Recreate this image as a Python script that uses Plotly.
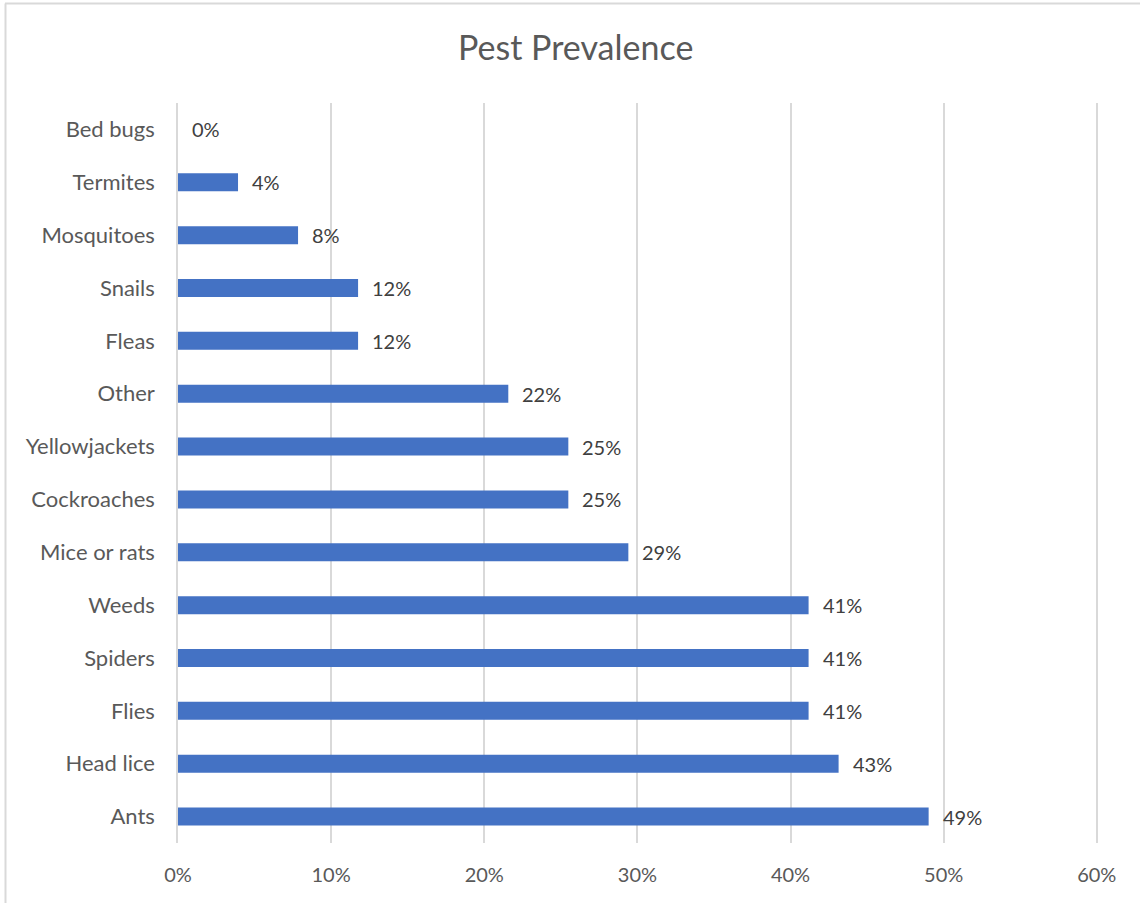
import plotly.graph_objects as go

categories = ["Ants", "Head lice", "Flies", "Spiders", "Weeds", "Mice or rats",
              "Cockroaches", "Yellowjackets", "Other", "Fleas", "Snails",
              "Mosquitoes", "Termites", "Bed bugs"]
values = [0.4902, 0.4314, 0.4118, 0.4118, 0.4118, 0.2941, 0.2549, 0.2549, 0.2157,
          0.1176, 0.1176, 0.0784, 0.0392, 0.0]
x_ticks = [0, 0.1, 0.2, 0.3, 0.4, 0.5, 0.6]

FONT = "Lato, Calibri, 'Open Sans', sans-serif"
W, H = 1140, 903
L, R, T, B = 178, 42, 103, 60
pw, ph = W - L - R, H - T - B

fig = go.Figure(go.Bar(
    x=values, y=categories, orientation="h",
    marker=dict(color="#4472C4", line=dict(width=0)),
    width=0.34,
))

for v, c in zip(values, categories):
    fig.add_annotation(x=v, y=c, xref="x", yref="y", text=f"{v:.0%}",
                       showarrow=False, xanchor="left", yanchor="middle", xshift=12,
                       font=dict(family=FONT, size=20, color="#404040"))

def px_x(px):
    return (px - L) / pw

def px_y(py):
    return (H - B - py) / ph

fig.update_layout(
    width=W, height=H,
    margin=dict(l=L, r=R, t=T, b=B),
    paper_bgcolor="white", plot_bgcolor="white",
    font=dict(family=FONT, color="#595959"),
    title=dict(text="Pest Prevalence", x=0.505, xref="container", xanchor="center",
               y=1 - 48 / H, yanchor="middle",
               font=dict(family=FONT, size=34, color="#595959")),
    showlegend=False,
    xaxis=dict(range=[0, 0.6008], tickvals=x_ticks, tickformat=".0%",
               showgrid=True, gridcolor="#d9d9d9", gridwidth=1.5,
               zeroline=False, showline=False, ticks="",
               ticklabelstandoff=18,
               tickfont=dict(family=FONT, size=20, color="#595959")),
    yaxis=dict(showgrid=False, zeroline=False, showline=True, linecolor="#d9d9d9", linewidth=1.5,
               ticks="", ticklabelstandoff=17,
               tickfont=dict(family=FONT, size=22, color="#595959")),
    shapes=[
        dict(type="line", xref="paper", yref="paper", x0=px_x(5), x1=px_x(W + 5),
             y0=px_y(3.5), y1=px_y(3.5), line=dict(color="#d9d9d9", width=2)),
        dict(type="line", xref="paper", yref="paper", x0=px_x(5.5), x1=px_x(5.5),
             y0=px_y(3.5), y1=px_y(H + 5), line=dict(color="#d9d9d9", width=2)),
    ],
)

fig.write_html("out.html")
